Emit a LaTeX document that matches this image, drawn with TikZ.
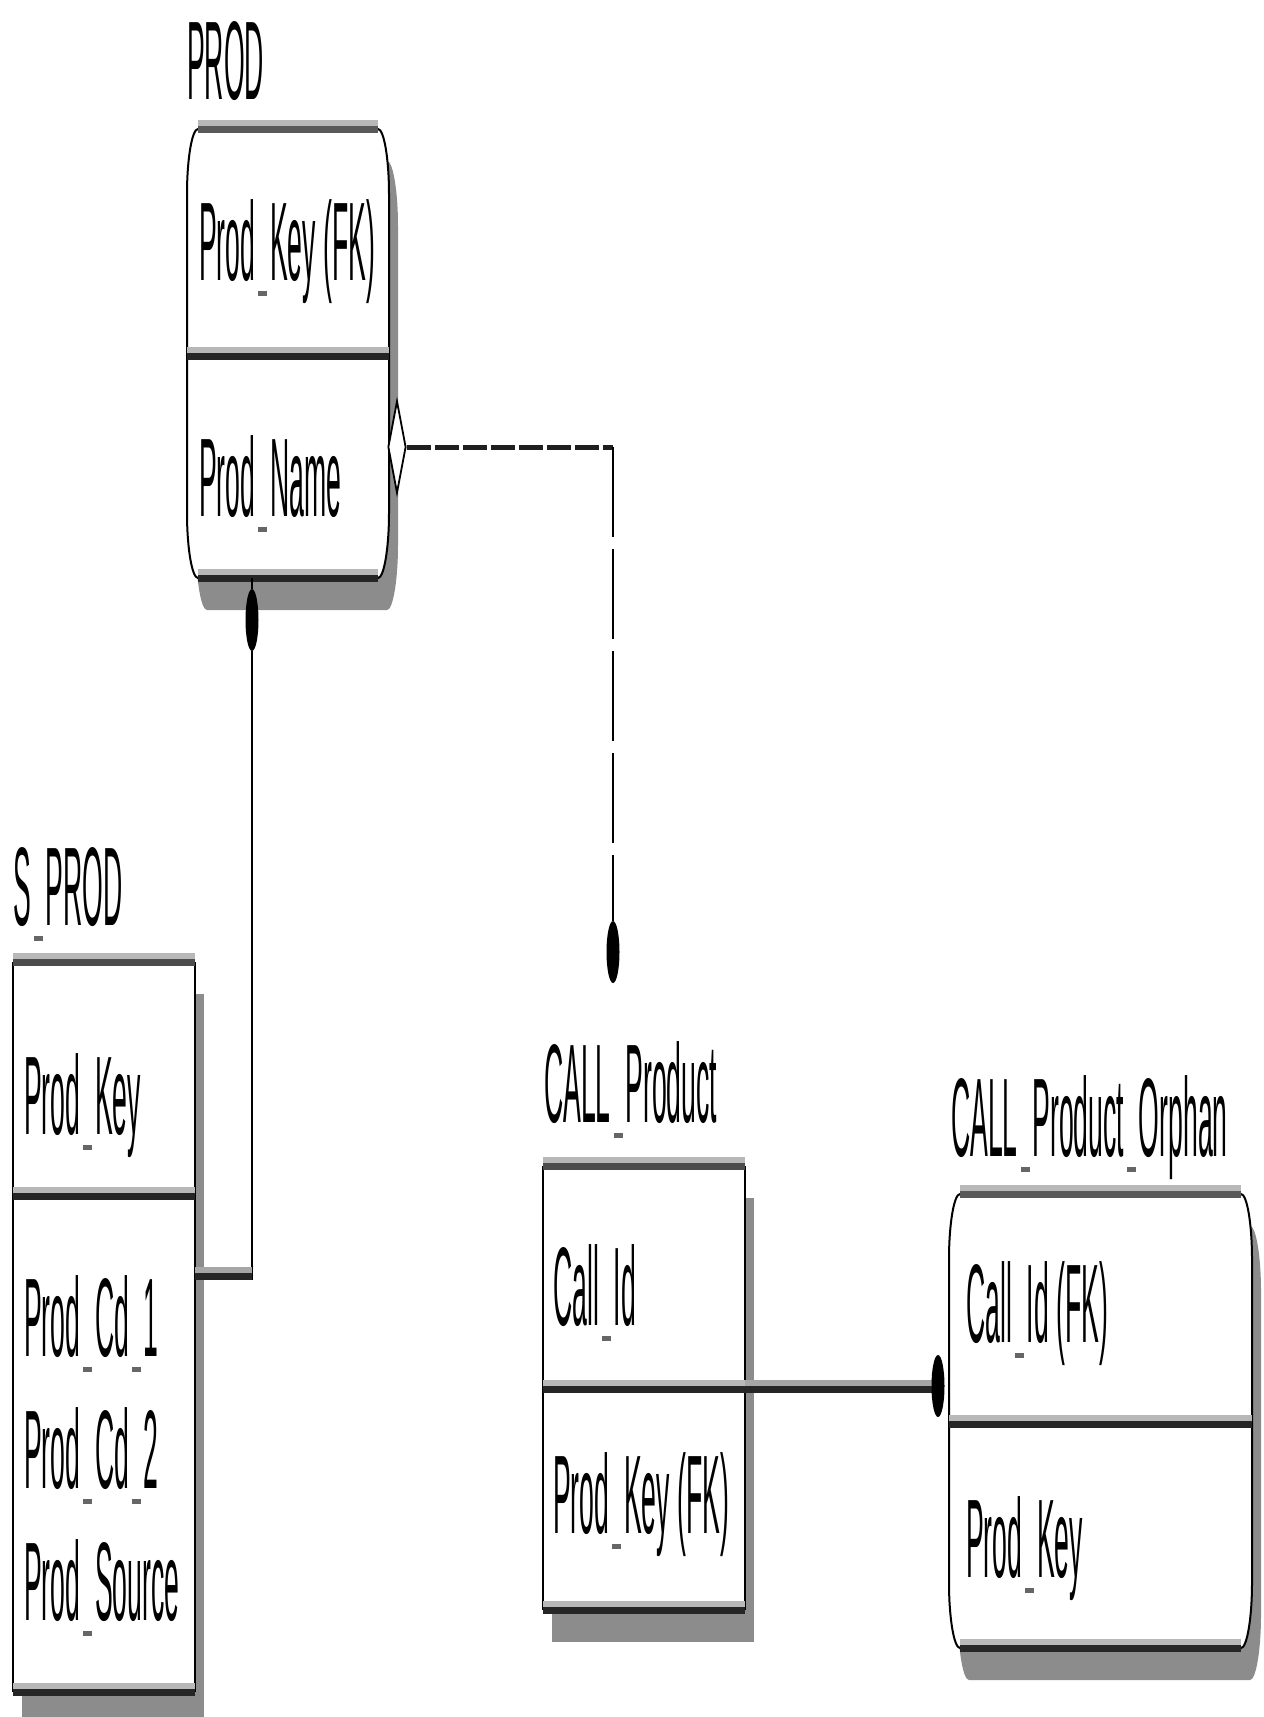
\documentclass[tikz,border=0pt]{standalone}
\usepackage{fontspec}
\usepackage{graphicx}
\setmainfont{Liberation Sans}
\usetikzlibrary{shapes.geometric,calc}
\newcommand\tx[1]{\scalebox{1}[4.2]{#1}}
\newcommand\us{\makebox[0.556em][c]{\color{black!60}\rule[-3.9pt]{0.33em}{1.3pt}}}
% horizontal thick bar: light halo above, dark core
\newcommand\entbar[4]{%
  \draw[line width=6pt, draw=black!28] (#1,#3-6.5) -- (#2,#3-6.5);
  \draw[line width=7pt, draw=#4] (#1,#3) -- (#2,#3);}
% square entity: x1 y1 x2 ydiv y2
\newcommand\sqent[5]{%
  \fill[shadowc] (#1+9,#2+32) rectangle (#3+9,#5+32);
  \fill[white] (#1,#2) rectangle (#3,#5);
  \draw[side] (#1,#2) -- (#1,#5) (#3,#2) -- (#3,#5);
  \entbar{#1}{#3}{#2}{black!70}
  \entbar{#1}{#3}{#4}{black!85}
  \entbar{#1}{#3}{#5}{black!85}}
% rounded entity: x1 y1 x2 ydiv y2
\newcommand\rdent[5]{%
  \fill[shadowc] (#1+11+9,#2+32) -- (#3-11+9,#2+32) .. controls (#3-5+9,#2+32) and (#3+9,#2+30+32) .. (#3+9,#2+65+32) -- (#3+9,#5-65+32) .. controls (#3+9,#5-30+32) and (#3-5+9,#5+32) .. (#3-11+9,#5+32) -- (#1+11+9,#5+32) .. controls (#1+5+9,#5+32) and (#1+9,#5-30+32) .. (#1+9,#5-65+32) -- (#1+9,#2+65+32) .. controls (#1+9,#2+30+32) and (#1+5+9,#2+32) .. (#1+11+9,#2+32) -- cycle;
  \filldraw[side, fill=white] (#1+11,#2) -- (#3-11,#2) .. controls (#3-5,#2) and (#3,#2+30) .. (#3,#2+65) -- (#3,#5-65) .. controls (#3,#5-30) and (#3-5,#5) .. (#3-11,#5) -- (#1+11,#5) .. controls (#1+5,#5) and (#1,#5-30) .. (#1,#5-65) -- (#1,#2+65) .. controls (#1,#2+30) and (#1+5,#2) .. (#1+11,#2) -- cycle;
  \entbar{#1+11}{#3-11}{#2}{black!65}
  \entbar{#1}{#3}{#4}{black!85}
  \entbar{#1+11}{#3-11}{#5}{black!85}}
\begin{document}
\begin{tikzpicture}[x=1pt,y=-1pt,
  shadowc/.style={fill=black!45},
  side/.style={line width=2pt, draw=black},
  ent/.style={rectangle, draw=none, inner sep=0pt, outer sep=0pt},
  txt/.style={anchor=base west, inner sep=0pt, font=\fontsize{26.6}{30}\selectfont},
  dotn/.style={ellipse, fill=black, draw=none, minimum width=13pt, minimum height=62pt, inner sep=0pt},
  dia/.style={diamond, draw=black, line width=1.8pt, fill=white, minimum width=18pt, minimum height=92pt, inner sep=0pt},
  vline/.style={line width=2pt, draw=black},
  dashh/.style={line width=5pt, draw=black!88, dash pattern=on 24pt off 4pt},
  dashv/.style={line width=2pt, draw=black, dash pattern=on 90pt off 12pt},
  halo/.style={line width=6pt, draw=black!35},
  core/.style={line width=7pt, draw=black!85}]
\useasboundingbox (0,0) rectangle (1264,1717);
\fill[white] (0,0) rectangle (1264,1717);

% entity geometry nodes
\node[ent, minimum width=202pt, minimum height=449pt] (prod) at (288,353.5) {};
\node[ent, minimum width=182pt, minimum height=730pt] (sprod) at (104,1327) {};
\node[ent, minimum width=202pt, minimum height=444pt] (callp) at (644,1388) {};
\node[ent, minimum width=303pt, minimum height=454pt] (orph) at (1100.5,1421) {};

% entity shapes
\rdent{187}{129}{389}{356}{578}
\sqent{13}{962}{195}{1196}{1692}
\sqent{543}{1166}{745}{1389}{1610}
\rdent{949}{1194}{1252}{1424}{1648}

% labels
\node[txt] (lprod) at (187,99) {\tx{PROD}};
\node[txt] (lsprod) at (13,925) {\tx{S\us PROD}};
\node[txt] (lcallp) at (544,1122) {\tx{CALL\us Product}};
\node[txt] (lorph) at (951,1156) {\tx{CALL\us Product\us Orphan}};

% attributes
\node[txt] (a1) at (199,280) {\tx{Prod\us Key (FK)}};
\node[txt] (a2) at (199,516) {\tx{Prod\us Name}};
\node[txt] (a3) at (24,1134) {\tx{Prod\us Key}};
\node[txt] (a4) at (24,1356) {\tx{Prod\us Cd\us 1}};
\node[txt] (a5) at (24,1488) {\tx{Prod\us Cd\us 2}};
\node[txt] (a6) at (24,1620) {\tx{Prod\us Source}};
\node[txt] (a7) at (553,1325) {\tx{Call\us Id}};
\node[txt] (a8) at (553,1533) {\tx{Prod\us Key (FK)}};
\node[txt] (a9) at (966,1342) {\tx{Call\us Id (FK)}};
\node[txt] (a10) at (966,1577) {\tx{Prod\us Key}};

% relationship PROD -> S_PROD
\node[dotn] (d1) at (252,620) {};
\draw[vline] (d1 |- prod.south) -- (d1.north);
\draw[vline] (d1.south) -- (d1 |- 0,1280);
\draw[halo] (d1 |- 0,1269.5) -- (sprod.east |- 0,1269.5);
\draw[core] (d1 |- 0,1276) -- (sprod.east |- 0,1276);

% relationship PROD -> CALL_Product (non-identifying, dashed)
\node[dia] (dm) at (397,447) {};
\coordinate (bend) at (613,447);
\node[dotn] (d2) at (613,952) {};
\draw[dashh] (dm.east) -- (bend);
\draw[dashv] (bend) -- (d2.north);

% relationship CALL_Product -> CALL_Product_Orphan
\draw[halo] (callp.east |- 0,1382.5) -- (938,1382.5);
\draw[core] (callp.east |- 0,1389) -- (938,1389);
\node[dotn] (d3) at (938,1386) {};
\end{tikzpicture}
\end{document}
